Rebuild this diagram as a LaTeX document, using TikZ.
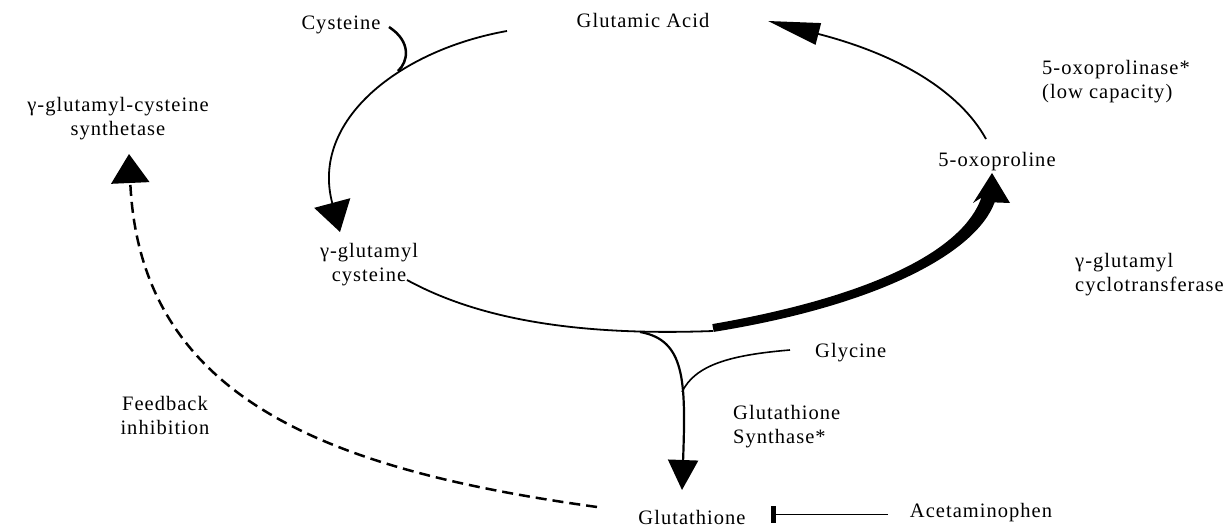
\documentclass[tikz,border=0pt]{standalone}
\usepackage{fontspec}
\setmainfont{Liberation Serif}[LetterSpace=5]
\usetikzlibrary{arrows.meta}
\begin{document}
\begin{tikzpicture}[x=1pt,y=-1pt]
\useasboundingbox (0,0) rectangle (1232,529);
\tikzset{
  lbl/.style={font=\fontsize{20.5}{24}\selectfont, inner sep=0pt, align=center},
  lblL/.style={lbl, align=left, anchor=west},
  thinpath/.style={line width=1.8pt},
  bigtip/.style={-{Triangle[length=30pt,width=37pt]}},
  dashpath/.style={line width=2.5pt, dash pattern=on 11pt off 6pt}
}
% labels
\node[lbl] (cys) at (341,25) {Cysteine};
\node[lbl] (glu) at (643,20) {Glutamic Acid};
\node[lblL] (oxoase) at (1042,82) {5-oxoprolinase*\\(low capacity)};
\node[lbl] (gcs) at (118,119) {γ-glutamyl-cysteine\\synthetase};
\node[lbl] (oxo) at (997,162) {5-oxoproline};
\node[lbl] (gc) at (369,265) {γ-glutamyl\\cysteine};
\node[lblL] (gct) at (1075,275) {γ-glutamyl\\cyclotransferase};
\node[lblL] (gly) at (815,353) {Glycine};
\node[lblL] (gs) at (733,427) {Glutathione\\Synthase*};
\node[lbl] (fb) at (165,415) {Feedback\\inhibition};
\node[lbl] (gsh) at (692,517) {Glutathione};
\node[lbl] (apap) at (981,513) {Acetaminophen};
% coordinates
\coordinate (topL) at (507,31);
\coordinate (cysOut) at (389,27);
\coordinate (cysJ) at (398,71);
\coordinate (gcIn) at (340,232);
\coordinate (gcOut) at (407,280);
\coordinate (botJ) at (640,332);
\coordinate (thickE) at (713,331);
\coordinate (oxoIn) at (992,173);
\coordinate (oxoOut) at (986,139);
\coordinate (gluIn) at (768,21);
\coordinate (glyOut) at (790,350);
\coordinate (glyJ) at (682,392);
\coordinate (gshIn) at (682,490);
\coordinate (dashS) at (597,507);
\coordinate (gcsIn) at (129,154);
\coordinate (apapOut) at (888,514);
\coordinate (inhEnd) at (771,514);
% cycle
\draw[thinpath, bigtip] (topL) .. controls (400,50) and (310,120) .. (gcIn);
\draw[line width=2.5pt] (cysOut) .. controls (412,42) and (408,62) .. (cysJ);
\draw[thinpath] (gcOut) .. controls (480,320) and (580,336) .. (thickE);
% tapered thick arrow (gamma-glutamyl cyclotransferase step)
\fill (712.3,324.1) .. controls (879.2,295.1) and (963.9,247.8) .. (981.4,197.6)
  -- (973,203) -- (oxoIn) -- (1010,203) -- (994.6,202.4)
  .. controls (976.1,252.2) and (880.8,304.9) .. (713.7,331.9) -- cycle;
\draw[thinpath, -{Triangle[length=52pt,width=22pt]}] (oxoOut) .. controls (960,92) and (900,55) .. (gluIn);
% glutathione synthesis
\draw[line width=2.2pt, -{Triangle[length=30pt,width=30pt]}] (botJ) .. controls (685,340) and (686,380) .. (gshIn);
\draw[line width=1.6pt] (glyOut) .. controls (730,355) and (695,365) .. (glyJ);
% feedback
\draw[dashpath, -{Triangle[length=29pt,width=38pt]}] (dashS) .. controls (330,470) and (140,400) .. (gcsIn);
% inhibition
\draw[line width=1pt, -{Rectangle[length=5pt,width=17pt]}] (apapOut) -- (inhEnd);
\end{tikzpicture}
\end{document}
